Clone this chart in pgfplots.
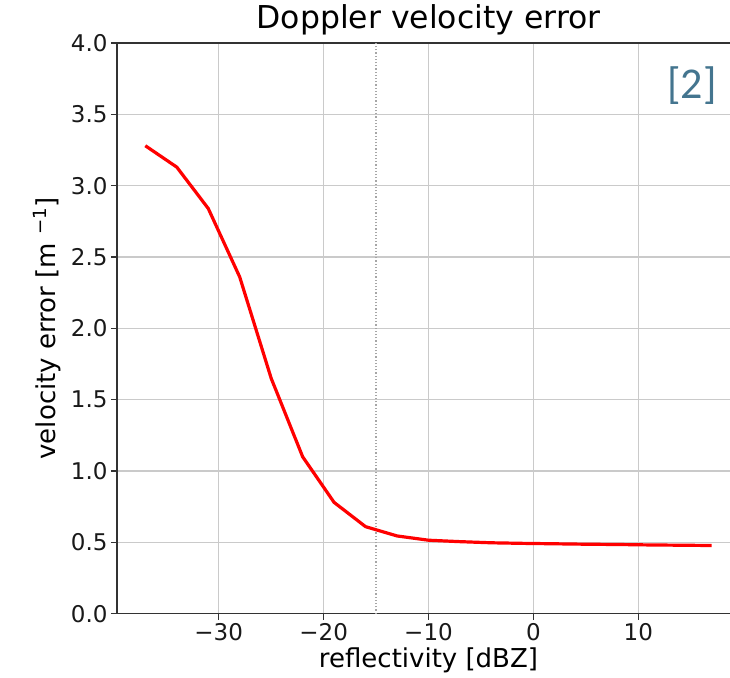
\documentclass[border=0pt]{standalone}
\usepackage{pgfplots}
\pgfplotsset{compat=1.18}
\usepackage{fontspec}
\setmainfont{DejaVu Sans}
\newfontfamily\carlito{Carlito}
\definecolor{gridgray}{HTML}{CACACA}
\definecolor{refblue}{HTML}{44758F}
\definecolor{spine}{HTML}{333333}

\pgfplotstableread{
x y
-37 3.28
-34 3.13
-31 2.84
-28 2.36
-25 1.65
-22 1.10
-19 0.78
-16 0.61
-13 0.545
-10 0.515
-7 0.505
-4 0.497
-1 0.493
2 0.490
5 0.487
8 0.485
11 0.482
14 0.480
17 0.478
}\velerr

\begin{document}
\begin{tikzpicture}
\useasboundingbox (0pt,0pt) rectangle (730pt,677pt);
\clip (0pt,0pt) rectangle (730pt,677pt);
\begin{axis}[
  at={(117pt,63.3pt)}, anchor=south west,
  scale only axis, width=623pt, height=570.7pt,
  xmin=-39.7, xmax=19.7, ymin=0, ymax=4,
  xtick={-30,-20,-10,0,10},
  xticklabels={−30,−20,−10,0,10},
  ytick={0,0.5,...,4.0},
  /pgf/number format/assume math mode=true,
  yticklabel style={/pgf/number format/.cd, fixed, fixed zerofill, precision=1},
  tick label style={font=\fontsize{23}{25}\selectfont, text=black!90},
  tick align=outside, tick pos=left,
  major tick length=6pt,
  tick style={spine, line width=1.2pt},
  axis line style={spine, line width=1.2pt},
  grid=major, grid style={gridgray, line width=1.2pt},
  title={Doppler velocity error},
  title style={font=\fontsize{31.5}{33}\selectfont, yshift=-2pt},
  xlabel={reflectivity [dBZ]},
  ylabel={velocity error [m \textsuperscript{−1}]},
  label style={font=\fontsize{26}{28}\selectfont},
  ylabel style={yshift=3pt},
]
\addplot[gray!70, dotted, line width=1.2pt] coordinates {(-15,0) (-15,4)};
\addplot[red, line width=3.2pt, line join=round] table[x=x, y=y] {\velerr};
\node[text=refblue, font=\carlito\fontsize{44}{46}\selectfont] at (rel axis cs:0.923,0.925) {[2]};
\end{axis}
\end{tikzpicture}
\end{document}
